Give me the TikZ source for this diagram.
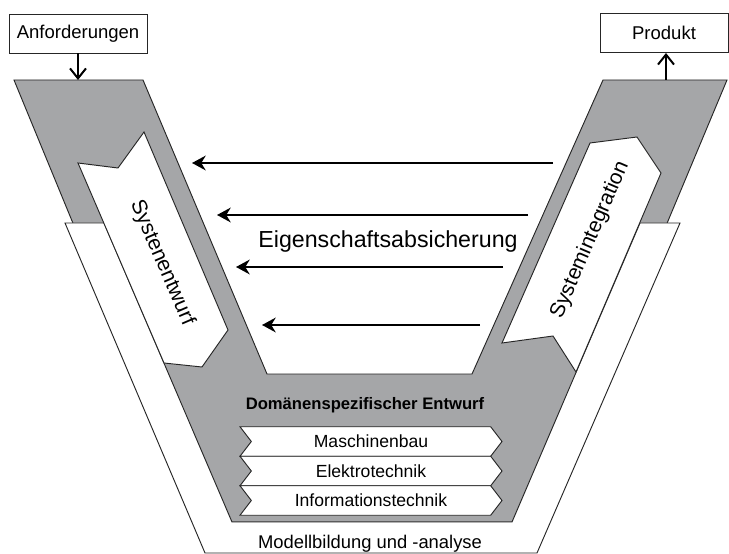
\documentclass[tikz,border=0pt]{standalone}
\usepackage{fontspec}
\setmainfont{Liberation Sans}
\usetikzlibrary{arrows.meta,shapes.symbols,positioning}

\definecolor{colorV}{RGB}{165,166,168}
\colorlet{colorLine}{black!85}

\tikzset{
   every path/.style={>=stealth},
   vbody/.style={fill=colorV, draw=colorLine, line width=0.8pt},
   vband/.style={fill=white, draw=colorLine, line width=0.8pt},
   phasebox/.style={fill=white, draw=colorLine, line width=0.8pt},
   io/.style={draw=colorLine, fill=white, line width=0.8pt, minimum height=11.7mm,
              inner sep=0pt, font=\fontsize{15.8}{18}\selectfont},
   flow/.style={-{Straight Barb[length=3mm,width=4.8mm]}, line width=1.7pt},
   check/.style={-{Stealth[length=4.1mm,width=4.4mm]}, line width=2.2pt},
   domainbox/.style={shape=signal, signal from=west, signal to=east, signal pointer angle=105,
                  draw=colorLine, fill=white, line width=0.8pt, minimum width=78.6mm,
                  minimum height=8.85mm, inner sep=0pt, font=\fontsize{15}{17}\selectfont},
}

\begin{document}
\begin{tikzpicture}[x=0.3mm, y=-0.3mm]
\useasboundingbox (0,0) rectangle (729,554);

% ------------------------------------------------------------
% V body
% ------------------------------------------------------------
\coordinate (vL1) at (14,80);
\coordinate (vL2) at (143,80);
\coordinate (vB1) at (267,374);
\coordinate (vB2) at (472,374);
\coordinate (vR2) at (603,80);
\coordinate (vR1) at (727,80);
\coordinate (gR)  at (542,522);
\coordinate (gL)  at (196,522);

\draw[vbody] (vL1) -- (vL2) -- (vB1) -- (vB2) -- (vR2) -- (vR1) -- (gR) -- (gL) -- cycle;

% Modellbildung band
\coordinate (bL1) at (65,223);
\coordinate (bL2) at (104,223);
\coordinate (bR2) at (640,223);
\coordinate (bR1) at (680,223);
\coordinate (bBL) at (205,553);
\coordinate (bBR) at (537,553);
\coordinate (gB1) at (232,522);
\coordinate (gB2) at (512,522);

\draw[vband] (bL1) -- (bBL) -- (bBR) -- (bR1) -- (bR2) -- (gB2) -- (gB1) -- (bL2) -- cycle;
\node[font=\fontsize{15.7}{18}\selectfont] (model) at (370,544) {Modellbildung und -analyse};

% ------------------------------------------------------------
% phases
% ------------------------------------------------------------
\draw[phasebox] (78,163) -- (118,168) -- (144,132) -- (228,330) -- (202,367) -- (164,363) -- cycle;
\node[rotate=-66.7, font=\fontsize{18}{20}\selectfont] (entwurf) at (162,263) {Systenentwurf};

\draw[phasebox] (590,143) -- (637,137) -- (661,173) -- (576,372) -- (553,336) -- (502,343) -- cycle;
\node[rotate=66.7, font=\fontsize{18}{20}\selectfont] (integ) at (590,240) {Systemintegration};

% input / output
\node[io, minimum width=41.4mm] (anf) at (78,33.5) {Anforderungen};
\node[io, minimum width=38.4mm] (prod) at (664,33) {Produkt};
\coordinate (vin) at (78,80);
\coordinate (vout) at (666,80);

\draw[flow] (anf) -- (vin);
\draw[flow] (vout) -- (vout |- prod.south);

% ------------------------------------------------------------
% Eigenschaftsabsicherung
% ------------------------------------------------------------
\coordinate (e1s) at (553,163);
\coordinate (e1e) at (192,163);
\coordinate (e2s) at (528,215);
\coordinate (e2e) at (217,215);
\coordinate (e3s) at (503,267);
\coordinate (e3e) at (236,267);
\coordinate (e4s) at (480,325);
\coordinate (e4e) at (262,325);

\draw[check] (e1s) -- (e1e);
\draw[check] (e2s) -- (e2e);
\draw[check] (e3s) -- (e3e);
\draw[check] (e4s) -- (e4e);

\node[font=\fontsize{19.8}{22}\selectfont] (absich) at (388,242) {Eigenschaftsabsicherung};

% ------------------------------------------------------------
% Domaenenspezifischer Entwurf
% ------------------------------------------------------------
\node[font=\bfseries\fontsize{14.2}{17}\selectfont] (dom) at (365,405) {Domänenspezifischer Entwurf};

\node[domainbox] (mb) at (371,441.5) {Maschinenbau};
\node[domainbox] (et) at (371,471) {Elektrotechnik};
\node[domainbox] (it) at (371,500.5) {Informationstechnik};
\end{tikzpicture}
\end{document}
